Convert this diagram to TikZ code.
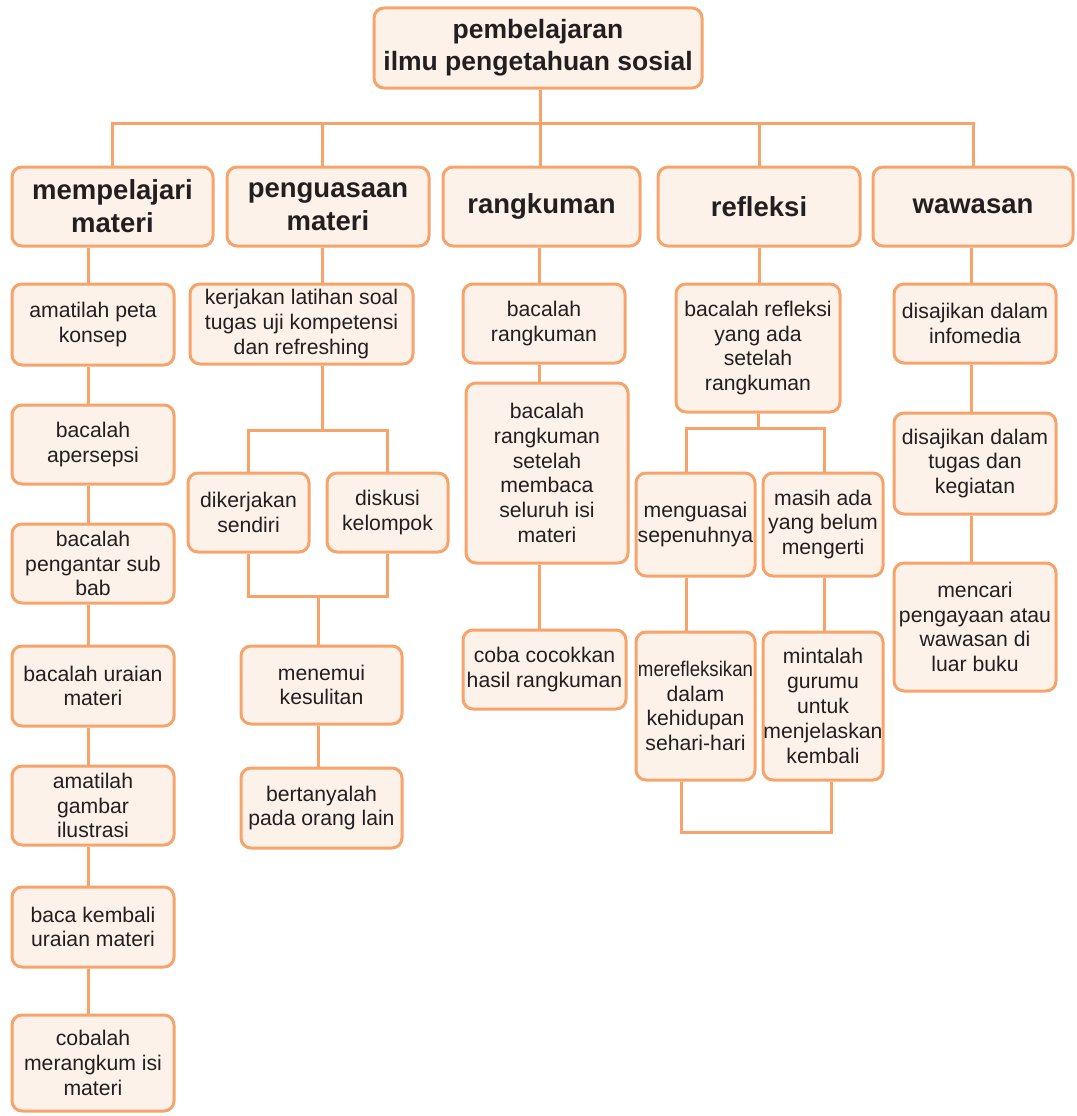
\documentclass[tikz,border=0pt]{standalone}
\usepackage{fontspec}
\setmainfont{Liberation Sans}
\definecolor{garis}{HTML}{F6A46C}
\definecolor{isi}{HTML}{FDF2EA}
\definecolor{teks}{HTML}{231F20}
\tikzstyle{kotak} = [rectangle, rounded corners=10pt, draw=garis, fill=isi, line width=3pt, text=teks, align=center, inner sep=0pt, font=\fontsize{21.2}{24.8}\selectfont]
\tikzstyle{judul} = [kotak, font=\fontsize{27.5}{33}\selectfont\bfseries]
\tikzstyle{induk} = [kotak, font=\fontsize{26.5}{32}\selectfont\bfseries]
\tikzstyle{sambung} = [draw=garis, line width=3pt]

\begin{document}
\begin{tikzpicture}[x=1pt, y=-1pt]
	\useasboundingbox (0,0) rectangle (1076,1116);
	% puncak dan judul
	\node (puncak) at (538, 48) [induk, minimum width=328, minimum height=80] {pembelajaran\\ilmu pengetahuan sosial};
	\node (h1) at (112.5, 206.5) [judul, minimum width=201, minimum height=79] {mempelajari\\materi};
	\node (h2) at (328, 206.5) [judul, minimum width=202, minimum height=79] {penguasaan\\materi};
	\node (h3) at (541.5, 206.5) [judul, minimum width=197, minimum height=79] {rangkuman};
	\node (h4) at (759, 206.5) [judul, minimum width=202, minimum height=79] {refleksi};
	\node (h5) at (973, 206.5) [judul, minimum width=200, minimum height=79] {wawasan};
	% kolom 1
	\node (peta) at (93, 324.5) [kotak, minimum width=162, minimum height=81] {amatilah peta\\konsep};
	\node (apersepsi) at (93, 444.5) [kotak, minimum width=162, minimum height=79] {bacalah\\apersepsi};
	\node (pengantar) at (93, 563.5) [kotak, minimum width=162, minimum height=79] {bacalah\\pengantar sub\\bab};
	\node (uraian) at (93, 686) [kotak, minimum width=162, minimum height=80] {bacalah uraian\\materi};
	\node (gambar) at (93, 805.5) [kotak, minimum width=162, minimum height=79] {amatilah\\gambar\\ilustrasi};
	\node (kembali) at (93, 927) [kotak, minimum width=162, minimum height=80] {baca kembali\\uraian materi};
	\node (merangkum) at (93, 1063) [kotak, minimum width=162, minimum height=96] {cobalah\\merangkum isi\\materi};
	% kolom 2
	\node (latihan) at (301.5, 324) [kotak, minimum width=223, minimum height=80] {kerjakan latihan soal\\tugas uji kompetensi\\dan refreshing};
	\node (sendiri) at (248.5, 512.5) [kotak, minimum width=121, minimum height=79] {dikerjakan\\sendiri};
	\node (kelompok) at (387.5, 512.5) [kotak, minimum width=121, minimum height=79] {diskusi\\kelompok};
	\node (kesulitan) at (321.5, 685) [kotak, minimum width=161, minimum height=78] {menemui\\kesulitan};
	\node (bertanya) at (321.5, 808) [kotak, minimum width=161, minimum height=80] {bertanyalah\\pada orang lain};
	% kolom 3
	\node (rangkum1) at (544, 323.5) [kotak, minimum width=162, minimum height=79] {bacalah\\rangkuman};
	\node (rangkum2) at (547, 473) [kotak, minimum width=162, minimum height=180] {bacalah\\rangkuman\\setelah\\membaca\\seluruh isi\\materi};
	\node (cocok) at (544.5, 669.5) [kotak, minimum width=163, minimum height=79] {coba cocokkan\\hasil rangkuman};
	% kolom 4
	\node (bacarefleksi) at (758, 348) [kotak, minimum width=164, minimum height=128] {bacalah refleksi\\yang ada\\setelah\\rangkuman};
	\node (kuasai) at (695.5, 524.5) [kotak, minimum width=119, minimum height=103] {menguasai\\sepenuhnya};
	\node (belum) at (823, 524.5) [kotak, minimum width=120, minimum height=103] {masih ada\\yang belum\\mengerti};
	\node (merefleksi) at (695.5, 706) [kotak, minimum width=119, minimum height=148] {\scalebox{0.88}[1]{merefleksikan}\\dalam\\kehidupan\\sehari-hari};
	\node (guru) at (823, 706) [kotak, minimum width=120, minimum height=148] {mintalah\\gurumu\\untuk\\menjelaskan\\kembali};
	% kolom 5
	\node (infomedia) at (975, 323.5) [kotak, minimum width=162, minimum height=79] {disajikan dalam\\infomedia};
	\node (tugas) at (975, 463.5) [kotak, minimum width=162, minimum height=101] {disajikan dalam\\tugas dan\\kegiatan};
	\node (pengayaan) at (975, 627) [kotak, minimum width=162, minimum height=128] {mencari\\pengayaan atau\\wawasan di\\luar buku};
	% titik bantu
	\coordinate (bus) at (540, 123);
	\coordinate (kol1) at (88, 0);
	\coordinate (pecah2) at (322, 430);
	\coordinate (gabung2) at (318, 596);
	\coordinate (kol3) at (539, 0);
	\coordinate (pecah4) at (758, 428);
	\coordinate (pecah4kiri) at (686, 428);
	\coordinate (pecah4kanan) at (824, 428);
	\coordinate (gabung4kiri) at (681, 832);
	\coordinate (gabung4kanan) at (831, 832);
	\coordinate (kol5) at (971, 0);
	% garis utama
	\draw[sambung] (puncak.south -| bus) -- (bus);
	\draw[sambung] (h1.north) |- (bus) -| (h5.north);
	\draw[sambung] (h2.north -| pecah2) -- (pecah2 |- bus);
	\draw[sambung] (h3.north -| bus) -- (bus);
	\draw[sambung] (h4.north) -- (h4.north |- bus);
	% garis kolom 1
	\draw[sambung] (h1.south -| kol1) -- (peta.north -| kol1);
	\draw[sambung] (peta.south -| kol1) -- (apersepsi.north -| kol1);
	\draw[sambung] (apersepsi.south -| kol1) -- (pengantar.north -| kol1);
	\draw[sambung] (pengantar.south -| kol1) -- (uraian.north -| kol1);
	\draw[sambung] (uraian.south -| kol1) -- (gambar.north -| kol1);
	\draw[sambung] (gambar.south -| kol1) -- (kembali.north -| kol1);
	\draw[sambung] (kembali.south -| kol1) -- (merangkum.north -| kol1);
	% garis kolom 2
	\draw[sambung] (h2.south -| pecah2) -- (latihan.north -| pecah2);
	\draw[sambung] (latihan.south -| pecah2) -- (pecah2);
	\draw[sambung] (sendiri.north) |- (pecah2) -| (kelompok.north);
	\draw[sambung] (sendiri.south) |- (gabung2) -| (kelompok.south);
	\draw[sambung] (gabung2) -- (kesulitan.north -| gabung2);
	\draw[sambung] (kesulitan.south -| gabung2) -- (bertanya.north -| gabung2);
	% garis kolom 3
	\draw[sambung] (h3.south -| kol3) -- (rangkum1.north -| kol3);
	\draw[sambung] (rangkum1.south -| kol3) -- (rangkum2.north -| kol3);
	\draw[sambung] (rangkum2.south -| kol3) -- (cocok.north -| kol3);
	% garis kolom 4
	\draw[sambung] (h4.south) -- (bacarefleksi.north -| h4.south);
	\draw[sambung] (bacarefleksi.south -| pecah4) -- (pecah4);
	\draw[sambung] (kuasai.north -| pecah4kiri) |- (pecah4kanan) -- (belum.north -| pecah4kanan);
	\draw[sambung] (kuasai.south -| pecah4kiri) -- (merefleksi.north -| pecah4kiri);
	\draw[sambung] (belum.south -| pecah4kanan) -- (guru.north -| pecah4kanan);
	\draw[sambung] (merefleksi.south -| gabung4kiri) |- (gabung4kanan) -- (guru.south -| gabung4kanan);
	% garis kolom 5
	\draw[sambung] (h5.south -| kol5) -- (infomedia.north -| kol5);
	\draw[sambung] (infomedia.south -| kol5) -- (tugas.north -| kol5);
	\draw[sambung] (tugas.south -| kol5) -- (pengayaan.north -| kol5);
\end{tikzpicture}
\end{document}
